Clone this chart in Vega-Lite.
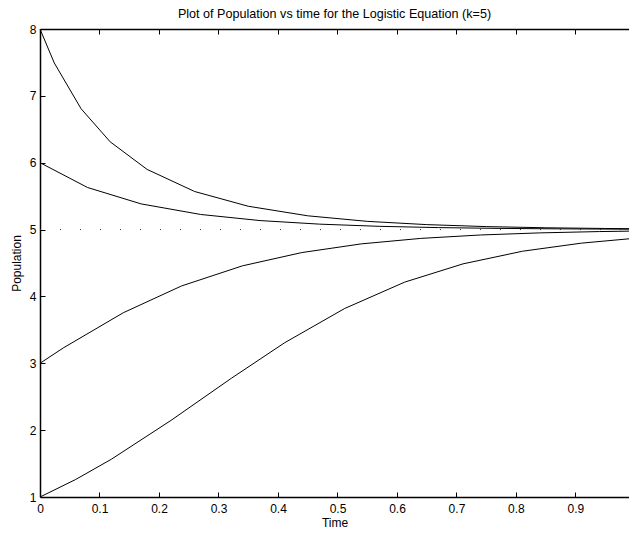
{
  "$schema": "https://vega.github.io/schema/vega-lite/v6.json",
  "autosize": {"type": "none"},
  "padding": {"left": 40, "top": 29, "right": 0, "bottom": 36},
  "width": 589,
  "height": 468,
  "title": {"text": "Plot of Population vs time for the Logistic Equation (k=5)", "fontSize": 12.6, "font": "Liberation Sans", "fontWeight": "normal", "offset": 2, "anchor": "middle", "color": "black"},
  "config": {
    "view": {"stroke": null},
    "axis": {"grid": false, "domainColor": "black", "domainWidth": 1.5, "tickColor": "black", "tickWidth": 1, "labelColor": "black", "titleColor": "black", "labelFont": "Liberation Sans", "titleFont": "Liberation Sans", "labelFontSize": 12, "titleFontSize": 12, "titleFontWeight": "normal"}
  },
  "data": {"values": [
    {"s": 8, "t": 0, "P": 8}, {"s": 8, "t": 0.024, "P": 7.492}, {"s": 8, "t": 0.069, "P": 6.808}, {"s": 8, "t": 0.118, "P": 6.312}, {"s": 8, "t": 0.18, "P": 5.9}, {"s": 8, "t": 0.26, "P": 5.569}, {"s": 8, "t": 0.35, "P": 5.349}, {"s": 8, "t": 0.45, "P": 5.206}, {"s": 8, "t": 0.55, "P": 5.123}, {"s": 8, "t": 0.65, "P": 5.074}, {"s": 8, "t": 0.75, "P": 5.0445}, {"s": 8, "t": 0.85, "P": 5.0269}, {"s": 8, "t": 0.95, "P": 5.0163}, {"s": 8, "t": 0.99, "P": 5.0133},
    {"s": 6, "t": 0, "P": 6}, {"s": 6, "t": 0.08, "P": 5.629}, {"s": 6, "t": 0.17, "P": 5.384}, {"s": 6, "t": 0.27, "P": 5.226}, {"s": 6, "t": 0.37, "P": 5.1345}, {"s": 6, "t": 0.47, "P": 5.081}, {"s": 6, "t": 0.57, "P": 5.0487}, {"s": 6, "t": 0.67, "P": 5.0294}, {"s": 6, "t": 0.77, "P": 5.0178}, {"s": 6, "t": 0.87, "P": 5.0108}, {"s": 6, "t": 0.97, "P": 5.0065}, {"s": 6, "t": 0.99, "P": 5.0059},
    {"s": 5, "t": 0, "P": 5}, {"s": 5, "t": 0.99, "P": 5},
    {"s": 3, "t": 0, "P": 3}, {"s": 3, "t": 0.039, "P": 3.229}, {"s": 3, "t": 0.14, "P": 3.756}, {"s": 3, "t": 0.238, "P": 4.157}, {"s": 3, "t": 0.34, "P": 4.457}, {"s": 3, "t": 0.44, "P": 4.656}, {"s": 3, "t": 0.54, "P": 4.786}, {"s": 3, "t": 0.64, "P": 4.868}, {"s": 3, "t": 0.74, "P": 4.919}, {"s": 3, "t": 0.84, "P": 4.9505}, {"s": 3, "t": 0.94, "P": 4.97}, {"s": 3, "t": 0.99, "P": 4.9765},
    {"s": 1, "t": 0, "P": 1}, {"s": 1, "t": 0.06, "P": 1.262}, {"s": 1, "t": 0.12, "P": 1.565}, {"s": 1, "t": 0.22, "P": 2.1445}, {"s": 1, "t": 0.322, "P": 2.778}, {"s": 1, "t": 0.411, "P": 3.306}, {"s": 1, "t": 0.512, "P": 3.819}, {"s": 1, "t": 0.613, "P": 4.214}, {"s": 1, "t": 0.711, "P": 4.487}, {"s": 1, "t": 0.811, "P": 4.676}, {"s": 1, "t": 0.91, "P": 4.797}, {"s": 1, "t": 0.99, "P": 4.862}
  ]},
  "resolve": {"axis": {"x": "independent", "y": "independent"}},
  "layer": [
    {
      "transform": [{"filter": "datum.s != 5"}],
      "mark": {"type": "line", "color": "black", "strokeWidth": 1},
      "encoding": {
        "x": {"field": "t", "type": "quantitative", "scale": {"domain": [0, 0.99], "nice": false, "zero": false},
              "axis": {"orient": "bottom", "title": "Time", "values": [0, 0.1, 0.2, 0.3, 0.4, 0.5, 0.6, 0.7, 0.8, 0.9], "format": "~g", "ticks": false, "labelPadding": 6, "titlePadding": 3, "labelFlush": false, "labelOverlap": false}},
        "y": {"field": "P", "type": "quantitative", "scale": {"domain": [1, 8], "nice": false, "zero": false},
              "axis": {"orient": "left", "title": "Population", "values": [1, 2, 3, 4, 5, 6, 7, 8], "format": "d", "ticks": false, "labelPadding": 4, "titlePadding": 6, "labelFlush": false, "labelOverlap": false}},
        "detail": {"field": "s"}
      }
    },
    {
      "transform": [{"filter": "datum.s == 5"}],
      "mark": {"type": "line", "color": "#333333", "strokeWidth": 1, "strokeDash": [1, 19]},
      "encoding": {
        "x": {"field": "t", "type": "quantitative", "scale": {"domain": [0, 0.99], "nice": false, "zero": false},
              "axis": {"orient": "bottom", "title": null, "labels": false, "domain": false, "values": [0.1, 0.2, 0.3, 0.4, 0.5, 0.6, 0.7, 0.8, 0.9], "tickSize": 5, "offset": -5}},
        "y": {"field": "P", "type": "quantitative",
              "axis": {"orient": "left", "title": null, "labels": false, "domain": false, "values": [2, 3, 4, 5, 6, 7], "tickSize": 5, "offset": -5}}
      }
    },
    {
      "transform": [{"filter": "datum.s == 5"}],
      "mark": {"type": "line", "strokeOpacity": 0},
      "encoding": {
        "x": {"field": "t", "type": "quantitative", "scale": {"domain": [0, 0.99], "nice": false, "zero": false},
              "axis": {"orient": "top", "title": null, "labels": false, "ticks": false}},
        "y": {"field": "P", "type": "quantitative", "axis": null}
      }
    },
    {
      "transform": [{"filter": "datum.s == 5"}],
      "mark": {"type": "line", "strokeOpacity": 0},
      "encoding": {
        "x": {"field": "t", "type": "quantitative", "scale": {"domain": [0, 0.99], "nice": false, "zero": false},
              "axis": {"orient": "top", "title": null, "labels": false, "domain": false, "values": [0.1, 0.2, 0.3, 0.4, 0.5, 0.6, 0.7, 0.8, 0.9], "tickSize": 5, "offset": -5}},
        "y": {"field": "P", "type": "quantitative", "axis": null}
      }
    }
  ]
}
